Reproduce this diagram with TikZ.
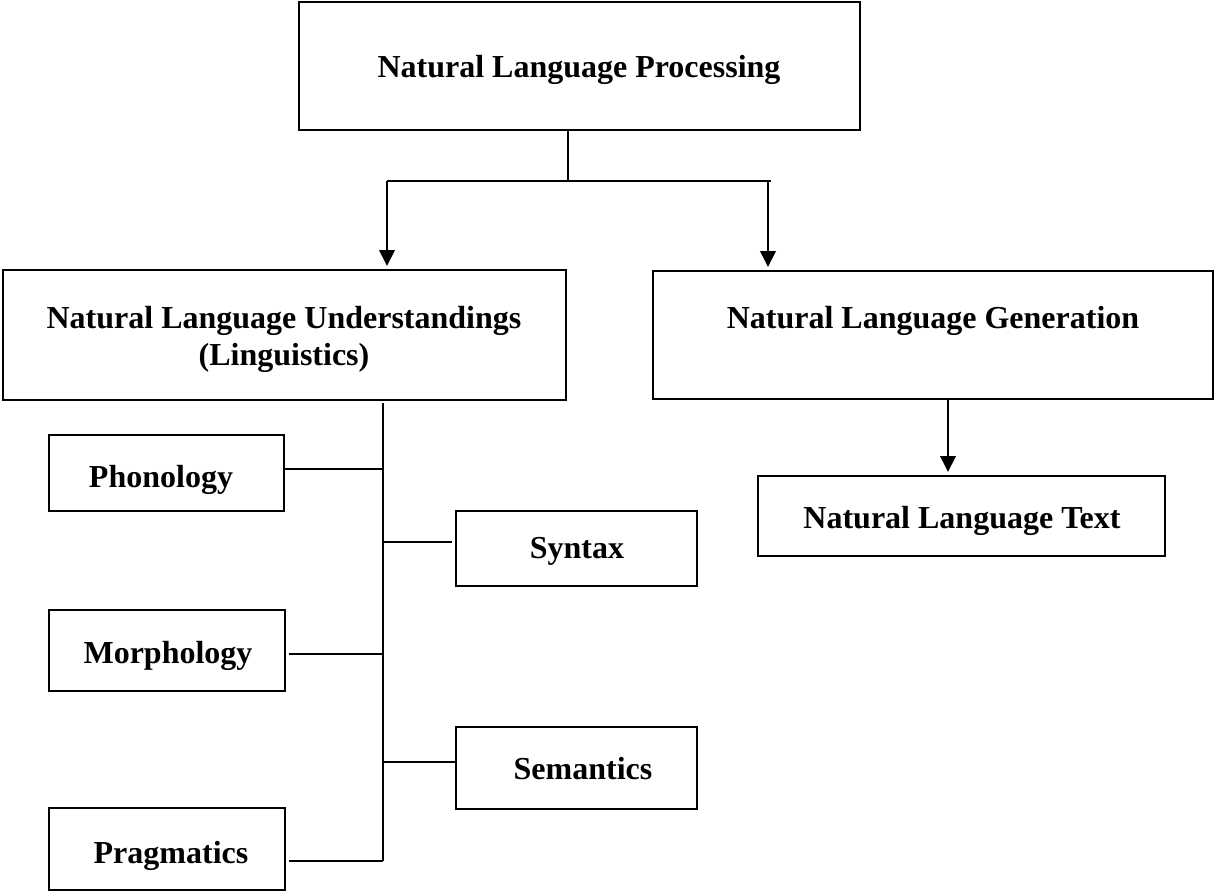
\documentclass[tikz,border=0pt]{standalone}
\usepackage{fontspec}
\setmainfont{Liberation Serif}
\usetikzlibrary{arrows.meta,fit}
\begin{document}
\begin{tikzpicture}[x=0.75pt,y=-0.75pt,
  box/.style={draw, line width=2pt, inner sep=0pt, outer sep=0pt},
  lbl/.style={anchor=base, inner sep=0pt, font=\fontsize{24}{27.75}\selectfont\bfseries},
  link/.style={line width=2pt},
  arr/.style={link, -{Triangle[width=11.5pt,length=12pt]}, shorten >=3pt}]
\useasboundingbox (0,0) rectangle (1216,892);

% boxes
\node[box, fit={(299,2) (860,130)}] (nlp) {};
\node[box, fit={(3,270) (566,400)}] (nlu) {};
\node[box, fit={(653,271) (1213,399)}] (nlg) {};
\node[box, fit={(758,476) (1165,556)}] (nlt) {};
\node[box, fit={(49,435) (284,511)}] (phon) {};
\node[box, fit={(456,511) (697,586)}] (syn) {};
\node[box, fit={(49,610) (285,691)}] (morph) {};
\node[box, fit={(456,727) (697,809)}] (sem) {};
\node[box, fit={(49,808) (285,890)}] (prag) {};

% labels
\node[lbl] (nlpT) at (579,78) {Natural Language Processing};
\node[lbl] (nluT1) at (284,328) {Natural Language Understandings};
\node[lbl] (nluT2) at (284,365) {(Linguistics)};
\node[lbl] (nlgT) at (933,328) {Natural Language Generation};
\node[lbl] (nltT) at (962,528) {Natural Language Text};
\node[lbl] (phonT) at (161,487) {Phonology};
\node[lbl] (synT) at (577,558) {Syntax};
\node[lbl] (morphT) at (168,663) {Morphology};
\node[lbl] (semT) at (583,779) {Semantics};
\node[lbl] (pragT) at (171,863) {Pragmatics};

% top split
\coordinate (split) at (568,181);
\coordinate (jl) at (387,181);
\coordinate (jr) at (768,181);
\draw[link] (nlp.south -| split) -- (split);
\draw[link] (jl) -- ([xshift=2.5pt]jr);
\draw[arr] (jl) -- (jl |- nlu.north);
\draw[arr] (jr) -- (jr |- nlg.north);

% generation branch
\coordinate (gx) at (948,440);
\draw[arr] (gx |- nlg.south) -- (gx |- nlt.north);

% linguistics trunk and its branches
\coordinate (b1) at (383,469);
\coordinate (b2) at (383,542);
\coordinate (b3) at (383,654);
\coordinate (b4) at (383,762);
\coordinate (b5) at (383,861);
\coordinate (trunktop) at (383,403);
\draw[link] (trunktop) -- (b5);
\draw[link] (b1 -| phon.east) -- (b1);
\draw[link] (b2) -- ([xshift=-3pt]b2 -| syn.west);
\draw[link] ([xshift=3pt]b3 -| morph.east) -- (b3);
\draw[link] (b4) -- (b4 -| sem.west);
\draw[link] ([xshift=3pt]b5 -| prag.east) -- (b5);
\end{tikzpicture}
\end{document}
